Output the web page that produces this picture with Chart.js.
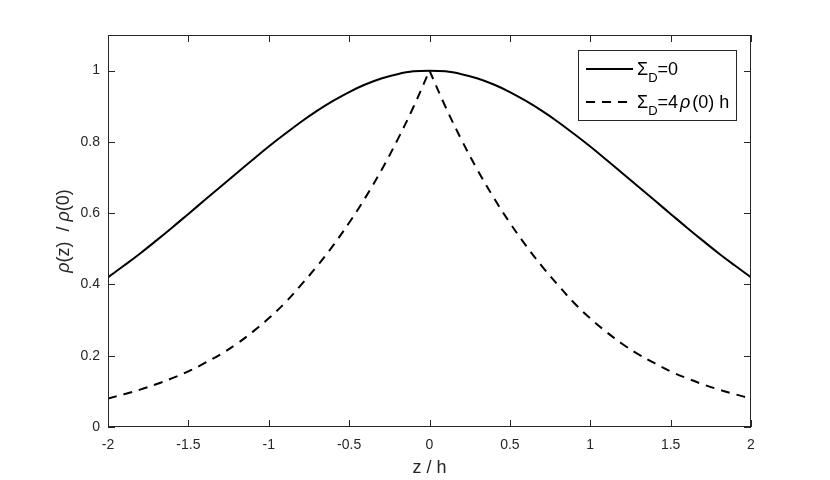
<!DOCTYPE html>
<html>
<head>
<meta charset="utf-8">
<script src="https://cdn.jsdelivr.net/npm/chart.js@4.4.1/dist/chart.umd.min.js"></script>
<style>
  html, body { margin: 0; padding: 0; background: #fff; }
  #chart { display: block; }
</style>
</head>
<body>
<canvas id="chart" width="830" height="480"></canvas>
<script>
// --- DATA ---
const zValues = [
  -2.0, -1.9, -1.8, -1.7, -1.6, -1.5, -1.4, -1.3, -1.2, -1.1,
  -1.0, -0.9, -0.8, -0.7, -0.6, -0.5, -0.4, -0.3, -0.2, -0.1,
   0.0,
   0.1,  0.2,  0.3,  0.4,  0.5,  0.6,  0.7,  0.8,  0.9,  1.0,
   1.1,  1.2,  1.3,  1.4,  1.5,  1.6,  1.7,  1.8,  1.9,  2.0
];

// Sigma_D = 0 (solid)
const rhoNoDisk = [
  0.420, 0.453, 0.487, 0.523, 0.560, 0.598, 0.636, 0.674, 0.712, 0.750,
  0.787, 0.822, 0.856, 0.887, 0.915, 0.940, 0.961, 0.978, 0.990, 0.998,
  1.000,
  0.998, 0.990, 0.978, 0.961, 0.940, 0.915, 0.887, 0.856, 0.822, 0.787,
  0.750, 0.712, 0.674, 0.636, 0.598, 0.560, 0.523, 0.487, 0.453, 0.420
];

// Sigma_D = 4 rho(0) h (dashed)
const rhoWithDisk = [
  0.080, 0.092, 0.105, 0.120, 0.137, 0.156, 0.179, 0.204, 0.233, 0.267,
  0.305, 0.348, 0.398, 0.451, 0.509, 0.573, 0.643, 0.720, 0.805, 0.898,
  1.000,
  0.898, 0.805, 0.720, 0.643, 0.573, 0.509, 0.451, 0.398, 0.348, 0.305,
  0.267, 0.233, 0.204, 0.179, 0.156, 0.137, 0.120, 0.105, 0.092, 0.080
];

const xTickValues = [-2, -1.5, -1, -0.5, 0, 0.5, 1, 1.5, 2];
const xTickLabels = ['-2', '-1.5', '-1', '-0.5', '0', '0.5', '1', '1.5', '2'];
const yTickValues = [0, 0.2, 0.4, 0.6, 0.8, 1];
const yTickLabels = ['0', '0.2', '0.4', '0.6', '0.8', '1'];

// --- STYLE ---
const AXIS_COLOR = '#262626';
const FONT = '"Liberation Sans", Arial, Helvetica, sans-serif';
const DASH = [9, 7];

function toPoints(ys, from, to) {
  const pts = zValues.map((z, i) => ({ x: z, y: ys[i] }));
  return pts.slice(from, to);
}
const mid = zValues.indexOf(0);

// Box, inward tick marks, y label (with italic rho) and legend
const matlabAxesPlugin = {
  id: 'matlabAxes',
  afterDraw(chart) {
    const { ctx, chartArea: a, scales } = chart;
    const tickLen = 7;
    ctx.save();
    ctx.strokeStyle = AXIS_COLOR;
    ctx.lineWidth = 1;

    // axes box
    ctx.strokeRect(Math.round(a.left) + 0.5, Math.round(a.top) + 0.5,
                   Math.round(a.right - a.left) - 1, Math.round(a.bottom - a.top) - 1);

    ctx.beginPath();
    xTickValues.forEach(v => {
      const px = Math.round(scales.x.getPixelForValue(v)) + 0.5;
      ctx.moveTo(px, a.bottom); ctx.lineTo(px, a.bottom - tickLen);
      ctx.moveTo(px, a.top); ctx.lineTo(px, a.top + tickLen);
    });
    yTickValues.forEach(v => {
      const py = Math.round(scales.y.getPixelForValue(v)) + 0.5;
      ctx.moveTo(a.left, py); ctx.lineTo(a.left + tickLen, py);
      ctx.moveTo(a.right, py); ctx.lineTo(a.right - tickLen, py);
    });
    ctx.stroke();

    // y axis title: rho(z)  / rho(0)
    const titleParts = [
      { t: 'ρ', italic: true }, { t: '(z)  / ' },
      { t: 'ρ', italic: true }, { t: '(0)' }
    ];
    const tSize = 18;
    let total = 0;
    titleParts.forEach(p => {
      ctx.font = (p.italic ? 'italic ' : '') + tSize + 'px ' + FONT;
      p.w = ctx.measureText(p.t).width;
      total += p.w;
    });
    ctx.translate(64, (a.top + a.bottom) / 2);
    ctx.rotate(-Math.PI / 2);
    ctx.fillStyle = AXIS_COLOR;
    ctx.textBaseline = 'middle';
    let tx = -total / 2;
    titleParts.forEach(p => {
      ctx.font = (p.italic ? 'italic ' : '') + tSize + 'px ' + FONT;
      ctx.fillText(p.t, tx, 0);
      tx += p.w;
    });
    ctx.restore();

    // legend
    ctx.save();
    const lx = a.right - 15 - 158, ly = a.top + 15;
    ctx.fillStyle = '#fff';
    ctx.fillRect(lx, ly, 158, 70);
    ctx.strokeStyle = AXIS_COLOR;
    ctx.lineWidth = 1;
    ctx.strokeRect(Math.round(lx) + 0.5, Math.round(ly) + 0.5, 158, 70);

    const entries = [
      { dash: [], parts: [{ t: 'Σ' }, { t: 'D', sub: true }, { t: '=0' }] },
      { dash: DASH, parts: [{ t: 'Σ' }, { t: 'D', sub: true }, { t: '=4', gap: 2 },
                            { t: 'ρ', italic: true, gap: 2 }, { t: '(0) h' }] }
    ];
    entries.forEach((e, i) => {
      const rowY = ly + 19 + i * 33;
      ctx.beginPath();
      ctx.setLineDash(e.dash);
      ctx.lineWidth = 2;
      ctx.strokeStyle = '#000';
      ctx.moveTo(lx + 8, rowY);
      ctx.lineTo(lx + 55, rowY);
      ctx.stroke();
      ctx.setLineDash([]);

      let x = lx + 59;
      ctx.fillStyle = '#000';
      ctx.textBaseline = 'alphabetic';
      e.parts.forEach(p => {
        const size = p.sub ? 13 : 18;
        ctx.font = (p.italic ? 'italic ' : '') + size + 'px ' + FONT;
        ctx.fillText(p.t, x, rowY + (p.sub ? 13 : 6));
        x += ctx.measureText(p.t).width + (p.gap || 0);
      });
    });
    ctx.restore();
  }
};

const lineBase = {
  borderColor: '#000',
  borderWidth: 2,
  pointRadius: 0,
  fill: false
};

const chart = new Chart(document.getElementById('chart'), {
  type: 'line',
  data: {
    datasets: [
      { ...lineBase, label: 'Sigma_D=0', data: toPoints(rhoNoDisk), tension: 0.4 },
      // dashed curve split at z=0 so the cusp stays sharp
      { ...lineBase, label: 'Sigma_D=4 rho(0) h', data: toPoints(rhoWithDisk, 0, mid + 1),
        borderDash: DASH, tension: 0.4 },
      { ...lineBase, label: 'Sigma_D=4 rho(0) h (z>0)', data: toPoints(rhoWithDisk, mid),
        borderDash: DASH, tension: 0.4 }
    ]
  },
  options: {
    responsive: false,
    animation: false,
    devicePixelRatio: 1,
    layout: { padding: { top: 35, right: 79, left: 0, bottom: 0 } },
    plugins: {
      legend: { display: false },
      tooltip: { enabled: false }
    },
    scales: {
      x: {
        type: 'linear',
        min: -2,
        max: 2,
        grid: { display: false, drawTicks: false },
        border: { display: false },
        afterBuildTicks: axis => { axis.ticks = xTickValues.map(v => ({ value: v })); },
        afterFit: axis => { axis.height = 53; },
        ticks: {
          color: AXIS_COLOR,
          font: { family: FONT, size: 14 },
          padding: 10,
          maxRotation: 0,
          autoSkip: false,
          callback: (v) => xTickLabels[xTickValues.indexOf(v)]
        },
        title: {
          display: true,
          text: 'z / h',
          color: AXIS_COLOR,
          font: { family: FONT, size: 18 },
          padding: { top: 0, bottom: 1 }
        }
      },
      y: {
        type: 'linear',
        min: 0,
        max: 1.1,
        grid: { display: false, drawTicks: false },
        border: { display: false },
        afterBuildTicks: axis => { axis.ticks = yTickValues.map(v => ({ value: v })); },
        afterFit: axis => { axis.width = 108; },
        ticks: {
          color: AXIS_COLOR,
          font: { family: FONT, size: 14 },
          padding: 8,
          autoSkip: false,
          callback: (v) => yTickLabels[yTickValues.indexOf(v)]
        }
      }
    }
  },
  plugins: [matlabAxesPlugin]
});
</script>
</body>
</html>
